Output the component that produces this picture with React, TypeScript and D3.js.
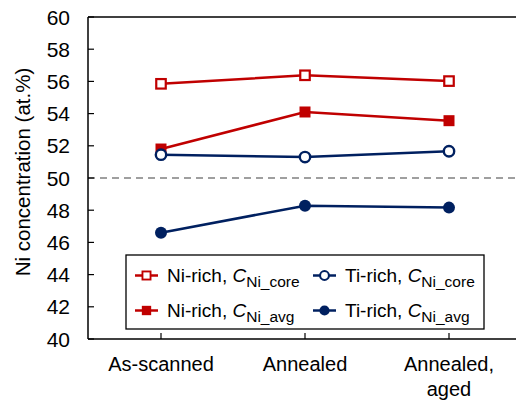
import React from "react";
import * as d3 from "d3";

const categories = ["As-scanned", "Annealed", "Annealed,\naged"];
const niRichCore = [55.85, 56.38, 56.02];
const niRichAvg = [51.8, 54.1, 53.56];
const tiRichCore = [51.45, 51.3, 51.66];
const tiRichAvg = [46.6, 48.28, 48.16];
const yTicks = [40, 42, 44, 46, 48, 50, 52, 54, 56, 58, 60];

const RED = "#C00000";
const BLUE = "#002060";
const FONT = "'Liberation Sans', Arial, sans-serif";

export default function App() {
  const W = 516, H = 401;
  const left = 88, right = 516, top = 17, bottom = 339;
  const y = d3.scaleLinear().domain([40, 60]).range([bottom, top]);
  const x = d3.scalePoint<string>().domain(categories).range([161, 449]);
  const line = d3
    .line<number>()
    .x((_, i) => x(categories[i]) as number)
    .y((d) => y(d));

  const series = [
    { data: niRichCore, color: RED, shape: "square", filled: false },
    { data: niRichAvg, color: RED, shape: "square", filled: true },
    { data: tiRichCore, color: BLUE, shape: "circle", filled: false },
    { data: tiRichAvg, color: BLUE, shape: "circle", filled: true },
  ];

  const marker = (shape: string, filled: boolean, color: string, cx: number, cy: number, key: any, size = 1) => {
    if (shape === "square") {
      const s = filled ? 11 * size : 9.5 * size;
      return (
        <rect key={key} x={cx - s / 2} y={cy - s / 2} width={s} height={s}
          fill={filled ? color : "#fff"} stroke={color} strokeWidth={filled ? 0 : 2.2 * size} />
      );
    }
    const r = filled ? 6 * size : 5.2 * size;
    return (
      <circle key={key} cx={cx} cy={cy} r={r} fill={filled ? color : "#fff"}
        stroke={color} strokeWidth={filled ? 0 : 2.4 * size} />
    );
  };

  const legendItems = [
    { label: "Ni-rich, ", sub: "Ni_core", s: series[0], lx: 135, ly: 282 },
    { label: "Ti-rich, ", sub: "Ni_core", s: series[2], lx: 313, ly: 282 },
    { label: "Ni-rich, ", sub: "Ni_avg", s: series[1], lx: 135, ly: 317 },
    { label: "Ti-rich, ", sub: "Ni_avg", s: series[3], lx: 313, ly: 317 },
  ];

  return (
    <svg width={W} height={H} style={{ display: "block", position: "absolute", left: 0, top: 0 }} fontFamily={FONT}>
      <rect width={W} height={H} fill="#fff" />
      {/* dashed 50 line */}
      <line x1={left} x2={right} y1={y(50)} y2={y(50)} stroke="#808080" strokeWidth={1.3} strokeDasharray="7,5" />
      {/* axes */}
      <line x1={left} x2={right} y1={top} y2={top} stroke="#000" strokeWidth={1.5} />
      <line x1={left} x2={right} y1={bottom} y2={bottom} stroke="#000" strokeWidth={1.5} />
      <line x1={left} x2={left} y1={top} y2={bottom} stroke="#000" strokeWidth={1.5} />
      {yTicks.map((t) => (
        <g key={t}>
          <line x1={left} x2={left + 6} y1={y(t)} y2={y(t)} stroke="#000" strokeWidth={1.2} />
          <text x={70} y={y(t)} dy="0.36em" textAnchor="end" fontSize={21} fill="#000">{t}</text>
        </g>
      ))}
      {categories.map((c) => {
        const lines = c.split("\n");
        return (
          <g key={c}>
            <line x1={x(c)} x2={x(c)} y1={bottom} y2={bottom - 6} stroke="#000" strokeWidth={1.2} />
            {lines.map((l, i) => (
              <text key={i} x={x(c)} y={371 + i * 25} textAnchor="middle" fontSize={20} fill="#000">{l}</text>
            ))}
          </g>
        );
      })}
      <text transform={`translate(30,${172}) rotate(-90)`} textAnchor="middle" fontSize={20.5} fill="#000">
        Ni concentration (at.%)
      </text>
      {/* series */}
      {series.map((s, si) => (
        <g key={si}>
          <path d={line(s.data) || ""} fill="none" stroke={s.color} strokeWidth={2.5} />
        </g>
      ))}
      {series.map((s, si) => (
        <g key={"m" + si}>
          {s.data.map((v, i) => marker(s.shape, s.filled, s.color, x(categories[i]) as number, y(v), i))}
        </g>
      ))}
      {/* legend */}
      <rect x={126} y={255} width={358} height={74} fill="#fff" stroke="#000" strokeWidth={1.3} />
      {legendItems.map((it, i) => (
        <g key={i}>
          <line x1={it.lx} x2={it.lx + 23} y1={it.ly - 6.5} y2={it.ly - 6.5} stroke={it.s.color} strokeWidth={2.5} />
          {marker(it.s.shape, it.s.filled, it.s.color, it.lx + 11.5, it.ly - 6.5, "lm", 0.85)}
          <text x={it.lx + 32} y={it.ly} fontSize={19} fill="#000">
            {it.label}
            <tspan fontStyle="italic">C</tspan>
            <tspan fontSize={15.5} dy={5}>{it.sub}</tspan>
          </text>
        </g>
      ))}
    </svg>
  );
}
